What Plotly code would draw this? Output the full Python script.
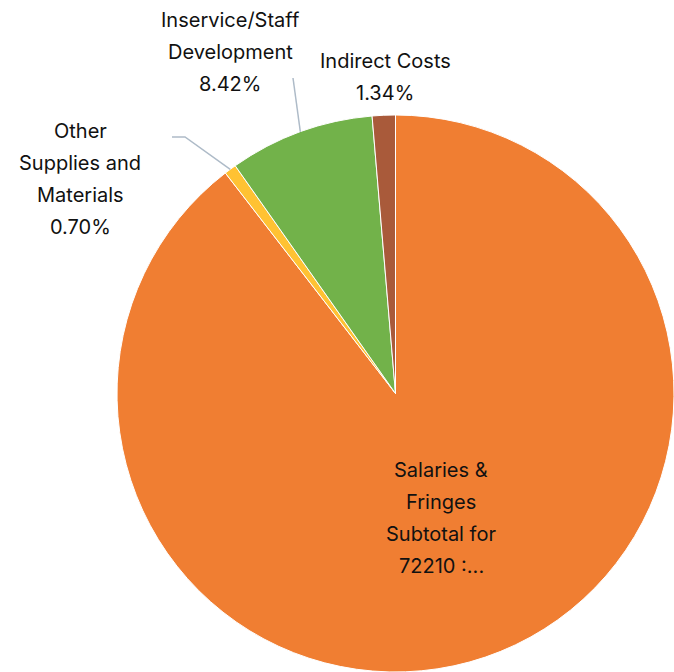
import math
import plotly.graph_objects as go

categories = ["Salaries & Fringes Subtotal for 72210 :...", "Other Supplies and Materials",
              "Inservice/Staff Development", "Indirect Costs"]
values = [89.54, 0.70, 8.42, 1.34]
label_lines = [
    ["Salaries &", "Fringes", "Subtotal for", "72210 :..."],
    ["Other", "Supplies and", "Materials", "0.70%"],
    ["Inservice/Staff", "Development", "8.42%"],
    ["Indirect Costs", "1.34%"],
]
colors = ["#F07E32", "#FFC233", "#72B24A", "#A95A3A"]

W, H = 674, 672
R = 278.5
cx, cy = W - R, H - R  # pixel center

def px(x):
    return x / W

def py(y):
    return 1 - y / H

fig = go.Figure(go.Pie(
    labels=categories, values=values, sort=False, direction="clockwise", rotation=0,
    marker=dict(colors=colors, line=dict(color="white", width=1)),
    textinfo="none", hoverinfo="label+percent", showlegend=False,
    domain=dict(x=[(cx - R) / W, 1], y=[0, (H - (cy - R)) / H]),
))

# label anchor positions (pixel centers of first line)
label_pos = [(441, 470), (80, 131), (230, 20), (385, 61)]
line_gap = 32
for lines, (lx, ly) in zip(label_lines, label_pos):
    for i, t in enumerate(lines):
        fig.add_annotation(x=px(lx), y=py(ly + i * line_gap), xref="paper", yref="paper",
                           text=t, showarrow=False, xanchor="center", yanchor="middle",
                           font=dict(family="Inter, Roboto, sans-serif", size=20, color="#111111"))

# leader lines to slice mid-angles
total = sum(values)
cum = 0
mids = []
for v in values:
    mids.append((cum + v / 2) / total * 360)
    cum += v

def edge(theta):
    t = math.radians(theta)
    return cx + R * math.sin(t), cy - R * math.cos(t)

lc = "#AEBBC8"
# Inservice
ex, ey = edge(mids[2])
fig.add_shape(type="line", xref="paper", yref="paper", x0=px(293), y0=py(78), x1=px(ex), y1=py(ey),
              line=dict(color=lc, width=1.5))
# Other supplies
ex, ey = edge(mids[1])
fig.add_shape(type="path", xref="paper", yref="paper",
              path=f"M {px(172)} {py(137)} L {px(185)} {py(137)} L {px(ex)} {py(ey)}",
              line=dict(color=lc, width=1.5))

fig.update_layout(width=W, height=H, margin=dict(l=0, r=0, t=0, b=0),
                  paper_bgcolor="white", plot_bgcolor="white")
fig.write_html("out.html")
